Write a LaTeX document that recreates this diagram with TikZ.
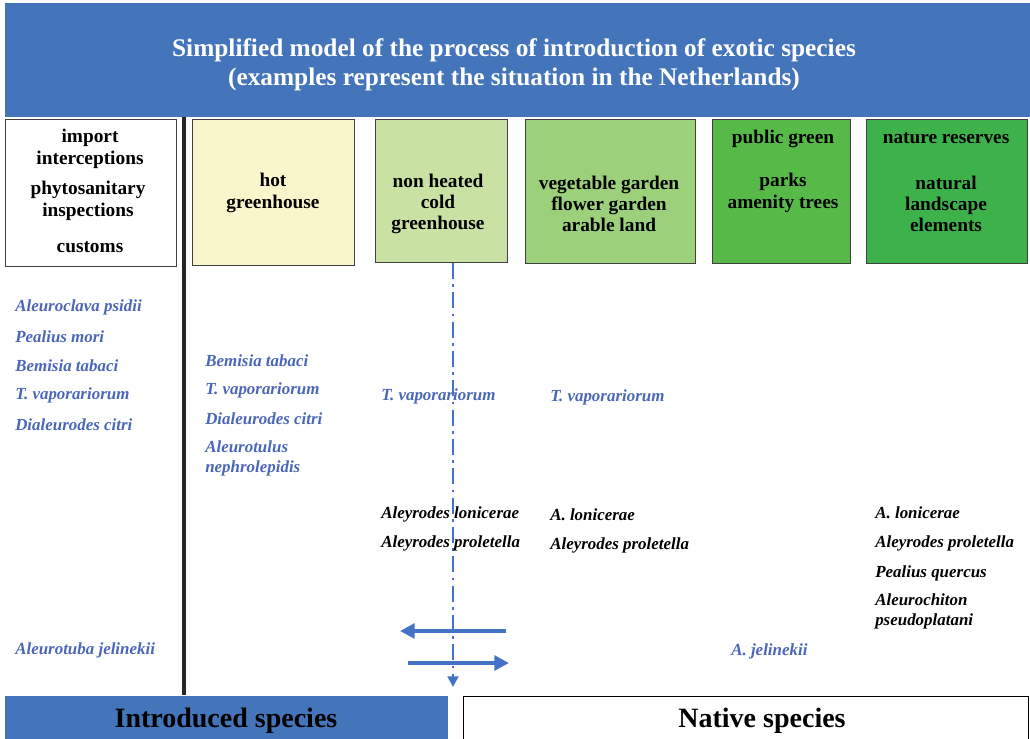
\documentclass[tikz,border=0pt]{standalone}
\usepackage{fontspec}
\setmainfont{Liberation Serif}
\usetikzlibrary{arrows.meta}
\definecolor{hdrblue}{HTML}{4474BA}
\definecolor{spblue}{HTML}{4A66B8}
\definecolor{arrblue}{HTML}{4472C4}
\definecolor{hotc}{HTML}{FAF6CB}
\definecolor{coldc}{HTML}{C9E1A3}
\definecolor{vegc}{HTML}{9CD07B}
\definecolor{pubc}{HTML}{57B948}
\definecolor{natc}{HTML}{3EB24A}
\tikzset{
  zonebox/.style={draw=black!75, line width=0.8pt, anchor=north west, inner sep=0pt},
  boxtxt/.style={font=\fontsize{14.5}{16}\selectfont\bfseries, align=center, inner sep=0pt, yshift=-1.5pt},
  intro/.style={font=\fontsize{12.7}{15}\selectfont\bfseries\itshape, text=spblue, anchor=west, inner sep=0pt, align=left, yshift=-1.5pt},
  native/.style={font=\fontsize{12.7}{15}\selectfont\bfseries\itshape, text=black, anchor=west, inner sep=0pt, align=left, yshift=-1.5pt},
  bottxt/.style={font=\fontsize{21}{24}\selectfont\bfseries},
  flowarrow/.style={draw=arrblue, line width=3pt, -{Triangle[length=11pt,width=11pt]}},
}
\begin{document}
\begin{tikzpicture}[x=0.75pt,y=-0.75pt]
\useasboundingbox (0,0) rectangle (1030,738);
% header
\node[fill=hdrblue, anchor=north west, minimum width=1025*0.75pt, minimum height=114*0.75pt, inner sep=0pt] (hdr) at (5,3) {};
\node[font=\fontsize{19}{22}\selectfont\bfseries, text=white, align=center] (title) at (514,65) {Simplified model of the process of introduction of exotic species\\(examples represent the situation in the Netherlands)};
% zone boxes
\node[zonebox, fill=white, minimum width=171*0.75pt, minimum height=147*0.75pt] (imp) at (5,119) {};
\node[zonebox, fill=hotc, minimum width=162*0.75pt, minimum height=146*0.75pt] (hot) at (192,119) {};
\node[zonebox, fill=coldc, minimum width=132*0.75pt, minimum height=143*0.75pt] (cold) at (375,119) {};
\node[zonebox, fill=vegc, minimum width=170*0.75pt, minimum height=144*0.75pt] (veg) at (525,119) {};
\node[zonebox, fill=pubc, minimum width=138*0.75pt, minimum height=144*0.75pt] (pub) at (712,119) {};
\node[zonebox, fill=natc, minimum width=161*0.75pt, minimum height=144*0.75pt] (nat) at (866,119) {};
% box texts
\node[boxtxt] (imp1) at (90,147) {import\\interceptions};
\node[boxtxt] (imp2) at (88,199) {phytosanitary\\inspections};
\node[boxtxt] (imp3) at (90,245) {customs};
\node[boxtxt] (hott) at (273,191) {hot\\greenhouse};
\node[boxtxt] (coldt) at (438,202) {non heated\\cold\\greenhouse};
\node[boxtxt] (vegt) at (609,202) {vegetable garden\\flower garden\\arable land};
\node[boxtxt] (pubt1) at (783,137) {public green};
\node[boxtxt] (pubt2) at (783,191) {parks\\amenity trees};
\node[boxtxt] (natt1) at (946,136) {nature reserves};
\node[boxtxt] (natt2) at (946,202) {natural\\landscape\\elements};
% divider
\coordinate (dtop) at (183.5,117);
\coordinate (dbot) at (183.5,695);
\draw[line width=3pt, black!85] (dtop) -- (dbot);
% dash-dot flow line
\coordinate (vtop) at (453,263);
\coordinate (vbot) at (453,687);
\draw[draw=arrblue, line width=2pt, dash pattern=on 12pt off 4pt on 2pt off 4pt, -{Triangle[length=8pt,width=8pt]}] (vtop) -- (vbot);
\coordinate (a1s) at (506,631);
\coordinate (a1e) at (400,631);
\coordinate (a2s) at (408,663);
\coordinate (a2e) at (509,663);
\draw[flowarrow] (a1s) -- (a1e);
\draw[flowarrow] (a2s) -- (a2e);
% species column 1
\node[intro] (s11) at (15,305) {Aleuroclava psidii};
\node[intro] (s12) at (15,335) {Pealius mori};
\node[intro] (s13) at (15,364) {Bemisia tabaci};
\node[intro] (s14) at (15,393) {T. vaporariorum};
\node[intro] (s15) at (15,423) {Dialeurodes citri};
\node[intro] (s16) at (15,648) {Aleurotuba jelinekii};
% column 2
\node[intro] (s21) at (205,359) {Bemisia tabaci};
\node[intro] (s22) at (205,388) {T. vaporariorum};
\node[intro] (s23) at (205,417) {Dialeurodes citri};
\node[intro] (s24) at (205,456) {Aleurotulus\\nephrolepidis};
% column 3
\node[intro] (s31) at (381,394) {T. vaporariorum};
\node[native] (s32) at (381,512) {Aleyrodes lonicerae};
\node[native] (s33) at (381,541) {Aleyrodes proletella};
% column 4
\node[intro] (s41) at (550,395) {T. vaporariorum};
\node[native] (s42) at (550,513) {A. lonicerae};
\node[native] (s43) at (550,543) {Aleyrodes proletella};
% column 5
\node[intro] (s51) at (731,649) {A. jelinekii};
% column 6
\node[native] (s61) at (875,511) {A. lonicerae};
\node[native] (s62) at (875,541) {Aleyrodes proletella};
\node[native] (s63) at (875,571) {Pealius quercus};
\node[native] (s64) at (875,609) {Aleurochiton\\pseudoplatani};
% bottom boxes
\node[fill=hdrblue, anchor=north west, minimum width=443*0.75pt, minimum height=43*0.75pt, inner sep=0pt] (introbox) at (5,696) {};
\node[bottxt] (introt) at (226,721) {Introduced species};
\node[draw=black, line width=0.8pt, fill=white, anchor=north west, minimum width=565*0.75pt, minimum height=45*0.75pt, inner sep=0pt] (natbox) at (463,696) {};
\node[bottxt] (natt) at (762,721) {Native species};
\end{tikzpicture}
\end{document}
